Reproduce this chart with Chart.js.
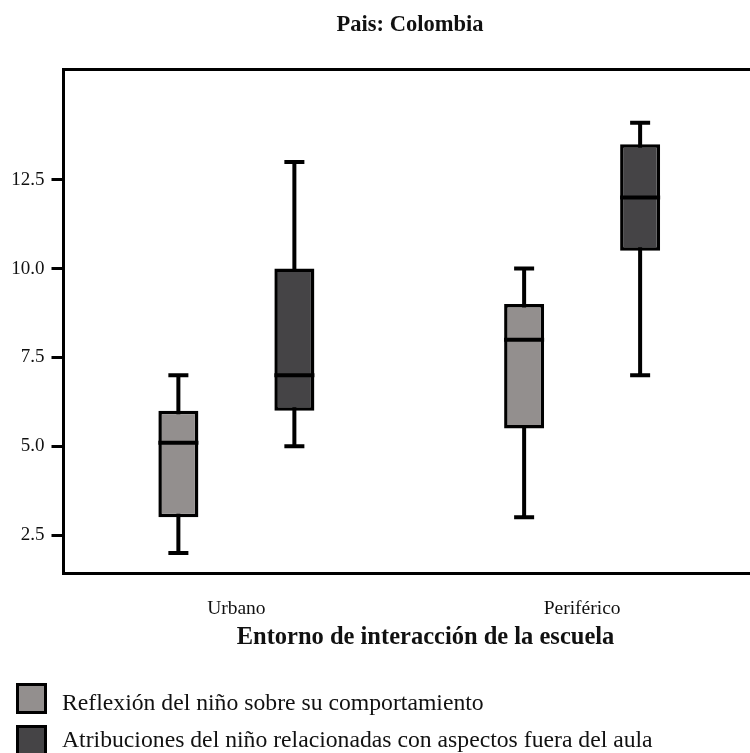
<!DOCTYPE html>
<html>
<head>
<meta charset="utf-8">
<script src="https://cdn.jsdelivr.net/npm/chart.js@4"></script>
<style>
  html, body { margin: 0; padding: 0; background: #fff; overflow: hidden; width: 750px; height: 753px; }
  #wrap { position: absolute; left: 0; top: 0; width: 760px; height: 764px; }
</style>
</head>
<body>
<div id="wrap"><canvas id="c" width="760" height="764"></canvas></div>
<script>
// School settings on the x axis
const categories = ['Urbano', 'Periférico'];

// Series names
const seriesLabels = [
  'Reflexión del niño sobre su comportamiento',
  'Atribuciones del niño relacionadas con aspectos fuera del aula'
];

// Five-number summaries, one value per setting
const reflexionMin    = [2, 3];
const reflexionQ1     = [3, 5.5];
const reflexionMedian = [5.1, 8];
const reflexionQ3     = [6, 9];
const reflexionMax    = [7, 10];

const atribucionMin    = [5, 7];
const atribucionQ1     = [6, 10.5];
const atribucionMedian = [7, 12];
const atribucionQ3     = [10, 13.5];
const atribucionMax    = [13, 14.1];

// Y axis tick values
const yTickValues = [2.5, 5, 7.5, 10, 12.5];

const chartTitle = 'Pais: Colombia';
const xAxisTitle = 'Entorno de interacción de la escuela';

const FONT = '"Liberation Serif", "Times New Roman", serif';

function boxDataset(label, color, lo, q1, med, q3, hi) {
  return {
    label,
    data: categories.map((_, i) => [q1[i], q3[i]]),
    whiskerMin: lo,
    whiskerMax: hi,
    median: med,
    backgroundColor: color,
    borderColor: '#000',
    borderWidth: 3.5,
    borderSkipped: false,
    categoryPercentage: 0.671,
    barPercentage: 0.345
  };
}

// Whiskers behind the boxes, medians and frame on top
const boxPlotPlugin = {
  id: 'boxPlot',
  beforeDatasetsDraw(chart) {
    const ctx = chart.ctx, y = chart.scales.y;
    ctx.save();
    ctx.strokeStyle = '#000';
    ctx.lineWidth = 4;
    chart.data.datasets.forEach((ds, di) => {
      chart.getDatasetMeta(di).data.forEach((bar, i) => {
        const { x, width } = bar.getProps(['x', 'width'], true);
        const yLo = y.getPixelForValue(ds.whiskerMin[i]);
        const yHi = y.getPixelForValue(ds.whiskerMax[i]);
        const cap = width / 4;
        ctx.beginPath();
        ctx.moveTo(x, yLo); ctx.lineTo(x, yHi);
        ctx.moveTo(x - cap, yLo); ctx.lineTo(x + cap, yLo);
        ctx.moveTo(x - cap, yHi); ctx.lineTo(x + cap, yHi);
        ctx.stroke();
      });
    });
    ctx.restore();
  },
  afterDatasetsDraw(chart) {
    const ctx = chart.ctx, y = chart.scales.y, a = chart.chartArea;
    ctx.save();
    ctx.strokeStyle = '#000';
    ctx.lineWidth = 4;
    chart.data.datasets.forEach((ds, di) => {
      chart.getDatasetMeta(di).data.forEach((bar, i) => {
        const { x, width } = bar.getProps(['x', 'width'], true);
        const ym = y.getPixelForValue(ds.median[i]);
        ctx.beginPath();
        ctx.moveTo(x - width / 2, ym); ctx.lineTo(x + width / 2, ym);
        ctx.stroke();
      });
    });
    ctx.lineWidth = 3;
    ctx.strokeRect(a.left, a.top, a.right - a.left, a.bottom - a.top);
    ctx.restore();
  },
  afterDraw(chart) {
    const ctx = chart.ctx;
    ctx.save();
    ctx.fillStyle = '#111';
    ctx.textBaseline = 'alphabetic';
    ctx.textAlign = 'center';
    ctx.font = 'bold 22.5px ' + FONT;
    ctx.fillText(chartTitle, 410, 30.5);
    ctx.font = 'bold 24.5px ' + FONT;
    ctx.fillText(xAxisTitle, 425.5, 644);

    // Legend
    ctx.textAlign = 'left';
    ctx.font = '23.7px ' + FONT;
    const rows = [{ boxTop: 684.5, base: 709.5 }, { boxTop: 726.5, base: 747 }];
    chart.data.datasets.forEach((ds, i) => {
      const r = rows[i];
      ctx.fillStyle = ds.backgroundColor;
      ctx.fillRect(17.5, r.boxTop, 28, 28);
      ctx.strokeStyle = '#000';
      ctx.lineWidth = 3;
      ctx.strokeRect(17.5, r.boxTop, 28, 28);
      ctx.fillStyle = '#111';
      ctx.fillText(ds.label, 62, r.base);
    });
    ctx.restore();
  }
};

new Chart(document.getElementById('c'), {
  type: 'bar',
  data: {
    labels: categories,
    datasets: [
      boxDataset(seriesLabels[0], '#938f8e', reflexionMin, reflexionQ1, reflexionMedian, reflexionQ3, reflexionMax),
      boxDataset(seriesLabels[1], '#454446', atribucionMin, atribucionQ1, atribucionMedian, atribucionQ3, atribucionMax)
    ]
  },
  options: {
    responsive: false,
    animation: false,
    devicePixelRatio: 1,
    layout: { padding: { top: 69.5, right: 5, left: 0, bottom: 0 } },
    plugins: { legend: { display: false }, title: { display: false }, tooltip: { enabled: false } },
    scales: {
      x: {
        grid: { display: false },
        border: { display: false },
        ticks: { color: '#111', padding: 16, font: { family: FONT, size: 19.5 } },
        afterFit(s) { s.height = 190.5; }
      },
      y: {
        min: 1.42,
        max: 15.6,
        afterBuildTicks(s) { s.ticks = yTickValues.map(v => ({ value: v })); },
        grid: { drawOnChartArea: false, drawTicks: true, tickLength: 12, tickWidth: 3, color: '#000' },
        border: { display: false },
        ticks: {
          color: '#111',
          padding: 7,
          font: { family: FONT, size: 19 },
          callback: v => Number(v).toFixed(1)
        },
        afterFit(s) { s.width = 63.5; }
      }
    }
  },
  plugins: [boxPlotPlugin]
});
</script>
</body>
</html>
